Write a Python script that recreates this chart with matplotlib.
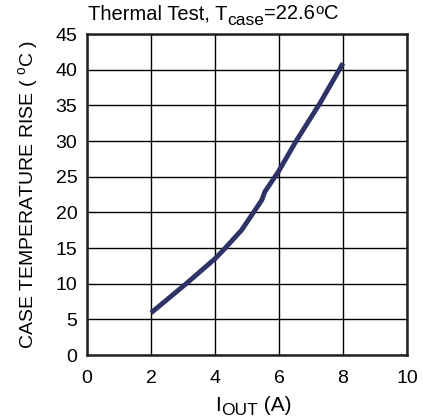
import matplotlib
matplotlib.use("Agg")
import matplotlib.pyplot as plt

plt.rcParams['font.family'] = ['Liberation Sans', 'DejaVu Sans']
plt.rcParams['mathtext.fontset'] = 'custom'
plt.rcParams['mathtext.rm'] = 'Liberation Sans'
plt.rcParams['mathtext.it'] = 'Liberation Sans'

# current (A) vs case temperature rise (C)
iout = [2.0, 3.1, 4.0, 4.26, 4.83, 5.46, 5.56, 5.98, 6.55, 7.28, 8.0]
temp_rise = [5.9, 10.0, 13.5, 14.7, 17.5, 21.7, 22.9, 25.7, 30.1, 35.3, 40.9]

W, H = 423, 418
fig = plt.figure(figsize=(W / 100, H / 100), dpi=100)
ax = fig.add_axes([87 / W, 1 - 355 / H, 320 / W, 321 / H])

ax.plot(iout, temp_rise, color='#2f3266', linewidth=3.5, solid_capstyle='butt')

ax.set_xlim(0, 10)
ax.set_ylim(0, 45)
ax.set_xticks(range(0, 11, 2))
ax.set_yticks(range(0, 46, 5))
ax.grid(True, color='black', linewidth=1.0)
ax.set_axisbelow(True)
for s in ax.spines.values():
    s.set_linewidth(1.8)
    s.set_color('#222222')
ax.tick_params(length=0, labelsize=14)
ax.tick_params(axis='x', pad=11)
ax.tick_params(axis='y', pad=7)


def rich_text(x_px, y_px, pieces):
    # pieces: (text, fontsize, baseline shift in px); left aligned at x_px
    renderer = fig.canvas.get_renderer()
    x = x_px
    for s, size, dy in pieces:
        t = fig.text(x / W, 1 - (y_px - dy) / H, s, fontsize=size,
                     ha='left', va='baseline')
        x += t.get_window_extent(renderer).width


rich_text(88, 19, [('Thermal Test, T', 14.5, 0), ('case', 12.5, -6),
                   ('=22.6', 14.5, 0), ('o', 11, 5.5), ('C', 14.5, 0)])
rich_text(215, 411, [('I', 15, 0), ('OUT', 12.5, -4), (' (A)', 15, 0)])

fig.text(28 / W, 1 - 194 / H, r'CASE TEMPERATURE RISE ( $^{\mathrm{o}}$C )',
         fontsize=14, rotation=90, ha='center', va='center')

fig.savefig('out.png', dpi=100)
